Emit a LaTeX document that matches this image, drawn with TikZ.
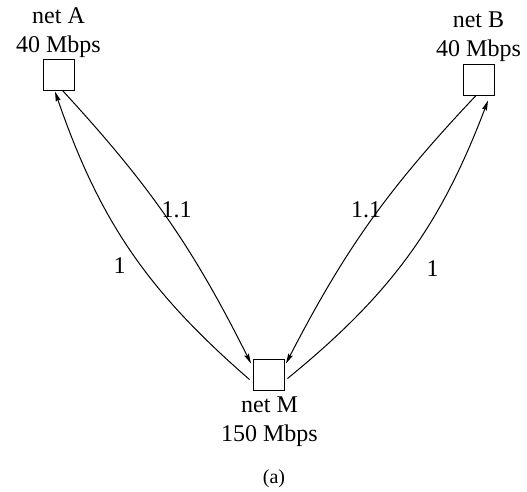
\documentclass[tikz,border=0pt]{standalone}
\usepackage{fontspec}
\setmainfont{Liberation Serif}
\usetikzlibrary{arrows.meta}
\begin{document}
\begin{tikzpicture}[x=1pt,y=-1pt,
  netbox/.style={draw,line width=1pt,minimum width=31pt,minimum height=31pt,inner sep=0pt},
  lbl/.style={anchor=base,inner sep=0pt,font=\fontsize{24}{29}\selectfont},
  captext/.style={anchor=base,inner sep=0pt,font=\fontsize{20}{24}\selectfont},
  link/.style={line width=1pt,-{Stealth[length=10pt,width=5pt,inset=1.5pt]}}]
\useasboundingbox (0,0) rectangle (527,491);
\node[netbox] (A) at (58.5,74.5) {};
\node[netbox] (B) at (479,79.5) {};
\node[netbox] (M) at (268.5,374.5) {};
\node[lbl] (An) at (58.5,23) {net A};
\node[lbl] (Ar) at (58.5,52) {40 Mbps};
\node[lbl] (Bn) at (478.5,27) {net B};
\node[lbl] (Br) at (478.5,56) {40 Mbps};
\node[lbl] (Mn) at (269.5,412) {net M};
\node[lbl] (Mr) at (269.5,441) {150 Mbps};
\node[captext] (capt) at (274,483) {(a)};
\node[lbl] (l1) at (176.5,217) {1.1};
\node[lbl] (l2) at (366,217) {1.1};
\node[lbl] (l3) at (119.5,273) {1};
\node[lbl] (l4) at (432.5,276) {1};
\draw[link] ([xshift=4pt]A.south) to[bend left=8] ([xshift=-1.5pt,yshift=-5pt]M.north west);
\draw[link] ([xshift=-3pt,yshift=-5pt]M.west) to[bend left=15] ([xshift=-3.5pt,yshift=-1pt]A.south);
\draw[link] ([xshift=-3pt]B.south) to[bend right=8] ([xshift=1.5pt,yshift=-5pt]M.north east);
\draw[link] ([xshift=3pt,yshift=-4pt]M.east) to[bend right=15] ([xshift=9pt,yshift=-5pt]B.south);
\end{tikzpicture}
\end{document}
